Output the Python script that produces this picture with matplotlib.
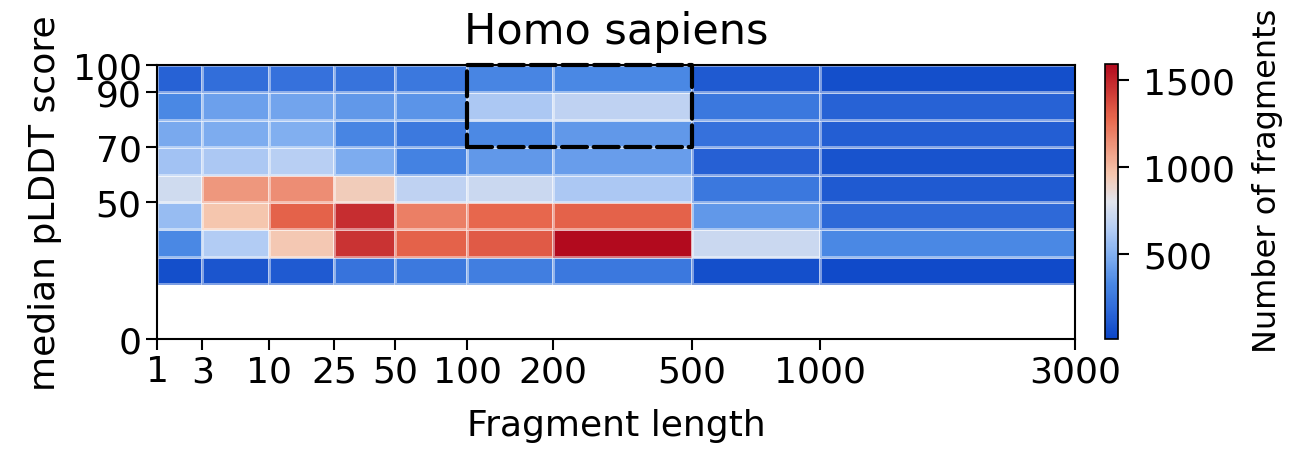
import numpy as np
import matplotlib
matplotlib.use("Agg")
import matplotlib.pyplot as plt
from matplotlib.patches import Rectangle
from matplotlib.colors import LinearSegmentedColormap

# ── data: fragment counts per (length bin, pLDDT bin) ──
length_edges = [1, 3, 10, 25, 50, 100, 200, 500, 1000, 3000]
plddt_edges = [20, 30, 40, 50, 60, 70, 80, 90, 100]

# one list per pLDDT row, bottom (20-30) to top (90-100)
row_20_30 = [60, 90, 110, 230, 260, 280, 250, 60, 40]
row_30_40 = [330, 640, 950, 1450, 1300, 1320, 1590, 720, 330]
row_40_50 = [560, 960, 1300, 1470, 1200, 1280, 1300, 400, 180]
row_50_60 = [740, 1120, 1150, 930, 680, 720, 620, 250, 110]
row_60_70 = [590, 620, 660, 480, 300, 400, 420, 140, 80]
row_70_80 = [470, 480, 490, 320, 260, 340, 400, 220, 130]
row_80_90 = [330, 430, 450, 400, 380, 620, 680, 250, 150]
row_90_100 = [150, 200, 220, 230, 250, 320, 330, 110, 60]

x_ticks = [1, 3, 10, 25, 50, 100, 200, 500, 1000, 3000]
y_ticks = [0, 50, 70, 90, 100]
cbar_ticks = [500, 1000, 1500]

# highlighted region (length 100-500, pLDDT 70-100)
box_x = (100, 500)
box_y = (70, 100)

counts = np.array([row_20_30, row_30_40, row_40_50, row_50_60,
                   row_60_70, row_70_80, row_80_90, row_90_100])

# coolwarm-like map, a bit more saturated like the source image
cmap = LinearSegmentedColormap.from_list('cw', [
    (0.00, '#0b45c6'),
    (0.10, '#2d68d8'),
    (0.20, '#4a88e4'),
    (0.30, '#80aef0'),
    (0.40, '#b4cdf4'),
    (0.50, '#e2e4ec'),
    (0.60, '#f5c6ae'),
    (0.80, '#e8694e'),
    (1.00, '#b20a1e'),
])

plt.rcParams['font.family'] = 'DejaVu Sans'
plt.rcParams['font.size'] = 26

fig = plt.figure(figsize=(12.91, 4.52), dpi=100)
ax = fig.add_axes([157 / 1291, 1 - 340 / 452, 918 / 1291, 274 / 452])
cax = fig.add_axes([1105 / 1291, 1 - 340 / 452, 13 / 1291, 275 / 452])

ax.set_xscale('function', functions=(lambda v: np.power(np.clip(v, 0, None), 0.25),
                                     lambda v: np.power(v, 4)))

mesh = ax.pcolormesh(length_edges, plddt_edges, counts, cmap=cmap,
                     vmin=15, vmax=1590, edgecolors=(1, 1, 1, 0.45), linewidth=1.0)

rect = Rectangle((box_x[0], box_y[0]), box_x[1] - box_x[0], box_y[1] - box_y[0],
                 fill=False, edgecolor='black', linestyle=(0, (6, 1.6)), linewidth=3,
                 joinstyle='round', capstyle='round', zorder=5, clip_on=False)
ax.add_patch(rect)

ax.set_xlim(1, 3000)
ax.set_ylim(0, 100)
ax.set_xticks(x_ticks)
ax.set_xticklabels([str(t) for t in x_ticks])
ax.minorticks_off()
ax.set_yticks(y_ticks)
ax.tick_params(length=8, width=1.5, pad=3, labelsize=26)
for s in ax.spines.values():
    s.set_linewidth(1.5)

ax.set_xlabel('Fragment length', fontsize=26, labelpad=14)
ax.set_ylabel('median pLDDT score', fontsize=26, labelpad=8)
ax.set_title('Homo sapiens', fontsize=31, pad=16)

cb = fig.colorbar(mesh, cax=cax, ticks=cbar_ticks)
cb.outline.set_linewidth(1.2)
cb.ax.tick_params(length=8, width=1.5, labelsize=26, pad=10)
cb.set_label('Number of fragments', fontsize=23, labelpad=12)
cb.ax.yaxis.label.set_y(0.58)

fig.savefig('out.png', dpi=100)
